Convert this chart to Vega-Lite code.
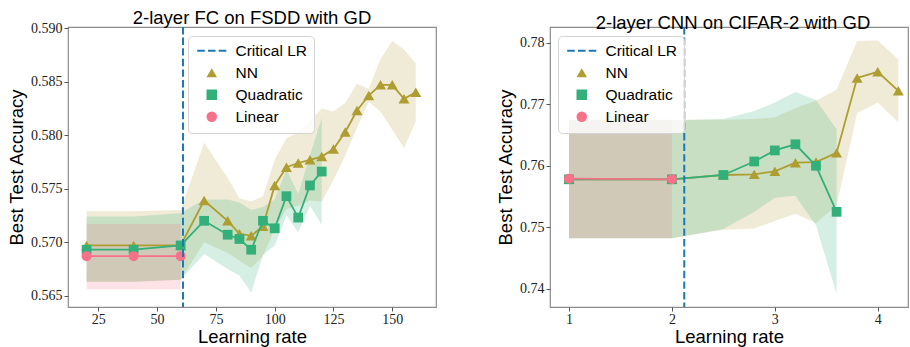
{
  "$schema": "https://vega.github.io/schema/vega-lite/v6.json",
  "background": "white",
  "padding": {"left": 6, "top": 7, "right": 0, "bottom": 0},
  "bounds": "flush",
  "spacing": 114,
  "config": {
    "view": {"stroke": "#8c8c8c", "strokeWidth": 1.2},
    "axis": {"grid": false, "domain": false, "tickColor": "#555", "tickSize": 4, "tickWidth": 1, "labelFont": "Liberation Serif", "labelFontSize": 14, "labelColor": "#222", "labelPadding": 2, "titleFont": "Liberation Sans", "titleFontSize": 18.5, "titleFontWeight": "normal", "titleColor": "#000"},
    "axisX": {"titlePadding": 1, "labelPadding": 1},
    "axisY": {"titlePadding": 4},
    "title": {"font": "Liberation Sans", "fontSize": 18.5, "fontWeight": "normal", "color": "#000", "offset": -6, "baseline": "bottom"},
    "legend": {"orient": "none", "labelFont": "Liberation Sans", "labelFontSize": 15.5, "labelColor": "#000", "symbolSize": 110, "labelOffset": 16, "symbolOffset": 9, "padding": 7, "fillColor": "rgba(255,255,255,0.8)", "strokeColor": "#d4d4d4", "cornerRadius": 4, "rowPadding": 5, "symbolStrokeWidth": 0, "symbolOpacity": 1}
  },
  "resolve": {"scale": {"color": "independent", "shape": "independent"}, "legend": {"color": "independent", "shape": "independent"}},
  "datasets": {
    "fsdd": [
      {"model": "NN", "lr": 20, "acc": 0.5697, "lo": 0.5663, "hi": 0.5729},
      {"model": "NN", "lr": 40, "acc": 0.5697, "lo": 0.5663, "hi": 0.5729},
      {"model": "NN", "lr": 60, "acc": 0.5697, "lo": 0.5665, "hi": 0.5730},
      {"model": "NN", "lr": 70, "acc": 0.5739, "lo": 0.5700, "hi": 0.5793},
      {"model": "NN", "lr": 80, "acc": 0.5720, "lo": 0.5690, "hi": 0.5760},
      {"model": "NN", "lr": 85, "acc": 0.5708, "lo": 0.5683, "hi": 0.5741},
      {"model": "NN", "lr": 90, "acc": 0.5706, "lo": 0.5676, "hi": 0.5738},
      {"model": "NN", "lr": 95, "acc": 0.5715, "lo": 0.5687, "hi": 0.5743},
      {"model": "NN", "lr": 100, "acc": 0.5753, "lo": 0.5712, "hi": 0.5777},
      {"model": "NN", "lr": 105, "acc": 0.5770, "lo": 0.5731, "hi": 0.5797},
      {"model": "NN", "lr": 110, "acc": 0.5774, "lo": 0.5734, "hi": 0.5803},
      {"model": "NN", "lr": 115, "acc": 0.5777, "lo": 0.5739, "hi": 0.5813},
      {"model": "NN", "lr": 120, "acc": 0.5780, "lo": 0.5738, "hi": 0.5825},
      {"model": "NN", "lr": 125, "acc": 0.5787, "lo": 0.5758, "hi": 0.5822},
      {"model": "NN", "lr": 130, "acc": 0.5803, "lo": 0.5781, "hi": 0.5830},
      {"model": "NN", "lr": 135, "acc": 0.5823, "lo": 0.5807, "hi": 0.5848},
      {"model": "NN", "lr": 140, "acc": 0.5837, "lo": 0.5831, "hi": 0.5843},
      {"model": "NN", "lr": 145, "acc": 0.5847, "lo": 0.5822, "hi": 0.5871},
      {"model": "NN", "lr": 150, "acc": 0.5847, "lo": 0.5805, "hi": 0.5888},
      {"model": "NN", "lr": 155, "acc": 0.5834, "lo": 0.5788, "hi": 0.5880},
      {"model": "NN", "lr": 160, "acc": 0.5840, "lo": 0.5813, "hi": 0.5867},
      {"model": "Quadratic", "lr": 20, "acc": 0.5693, "lo": 0.5663, "hi": 0.5724},
      {"model": "Quadratic", "lr": 40, "acc": 0.5693, "lo": 0.5663, "hi": 0.5724},
      {"model": "Quadratic", "lr": 60, "acc": 0.5697, "lo": 0.5665, "hi": 0.5727},
      {"model": "Quadratic", "lr": 70, "acc": 0.5720, "lo": 0.5689, "hi": 0.5740},
      {"model": "Quadratic", "lr": 80, "acc": 0.5707, "lo": 0.5675, "hi": 0.5740},
      {"model": "Quadratic", "lr": 85, "acc": 0.5703, "lo": 0.5669, "hi": 0.5737},
      {"model": "Quadratic", "lr": 90, "acc": 0.5693, "lo": 0.5653, "hi": 0.5730},
      {"model": "Quadratic", "lr": 95, "acc": 0.5720, "lo": 0.5688, "hi": 0.5733},
      {"model": "Quadratic", "lr": 100, "acc": 0.5713, "lo": 0.5697, "hi": 0.5740},
      {"model": "Quadratic", "lr": 105, "acc": 0.5743, "lo": 0.5725, "hi": 0.5768},
      {"model": "Quadratic", "lr": 110, "acc": 0.5723, "lo": 0.5709, "hi": 0.5745},
      {"model": "Quadratic", "lr": 115, "acc": 0.5753, "lo": 0.5734, "hi": 0.5781},
      {"model": "Quadratic", "lr": 120, "acc": 0.5766, "lo": 0.5716, "hi": 0.5816},
      {"model": "Linear", "lr": 20, "acc": 0.5687, "lo": 0.5656, "hi": 0.5717},
      {"model": "Linear", "lr": 40, "acc": 0.5687, "lo": 0.5656, "hi": 0.5717},
      {"model": "Linear", "lr": 60, "acc": 0.5687, "lo": 0.5656, "hi": 0.5717}
    ],
    "cifar": [
      {"model": "NN", "lr": 1, "acc": 0.7578, "lo": 0.7482, "hi": 0.7675},
      {"model": "NN", "lr": 2, "acc": 0.7578, "lo": 0.7482, "hi": 0.7675},
      {"model": "NN", "lr": 2.5, "acc": 0.7585, "lo": 0.7496, "hi": 0.7675},
      {"model": "NN", "lr": 2.8, "acc": 0.7586, "lo": 0.7498, "hi": 0.7676},
      {"model": "NN", "lr": 3.0, "acc": 0.7591, "lo": 0.7510, "hi": 0.7679},
      {"model": "NN", "lr": 3.2, "acc": 0.7605, "lo": 0.7522, "hi": 0.7694},
      {"model": "NN", "lr": 3.4, "acc": 0.7606, "lo": 0.7507, "hi": 0.7706},
      {"model": "NN", "lr": 3.6, "acc": 0.7621, "lo": 0.7535, "hi": 0.7724},
      {"model": "NN", "lr": 3.8, "acc": 0.7743, "lo": 0.7686, "hi": 0.7803},
      {"model": "NN", "lr": 4.0, "acc": 0.7753, "lo": 0.7703, "hi": 0.7804},
      {"model": "NN", "lr": 4.2, "acc": 0.7722, "lo": 0.7671, "hi": 0.7773},
      {"model": "Quadratic", "lr": 1, "acc": 0.7578, "lo": 0.7482, "hi": 0.7675},
      {"model": "Quadratic", "lr": 2, "acc": 0.7578, "lo": 0.7482, "hi": 0.7674},
      {"model": "Quadratic", "lr": 2.5, "acc": 0.7585, "lo": 0.7497, "hi": 0.7676},
      {"model": "Quadratic", "lr": 2.8, "acc": 0.7607, "lo": 0.7525, "hi": 0.7689},
      {"model": "Quadratic", "lr": 3.0, "acc": 0.7625, "lo": 0.7548, "hi": 0.7703},
      {"model": "Quadratic", "lr": 3.2, "acc": 0.7635, "lo": 0.7551, "hi": 0.7720},
      {"model": "Quadratic", "lr": 3.4, "acc": 0.7600, "lo": 0.7503, "hi": 0.7707},
      {"model": "Quadratic", "lr": 3.6, "acc": 0.7525, "lo": 0.7391, "hi": 0.7660},
      {"model": "Linear", "lr": 1, "acc": 0.7579, "lo": 0.7482, "hi": 0.7675},
      {"model": "Linear", "lr": 2, "acc": 0.7578, "lo": 0.7482, "hi": 0.7675}
    ]
  },
  "hconcat": [
    {
      "width": 368,
      "height": 280,
      "title": {"text": "2-layer FC on FSDD with GD"},
      "data": {"name": "fsdd"},
      "layer": [
        {
          "transform": [{"filter": "datum.model === 'NN'"}],
          "mark": {"type": "area", "color": "#ae9d31", "opacity": 0.2},
          "encoding": {
            "x": {"field": "lr", "type": "quantitative", "title": "Learning rate", "scale": {"domain": [12.1, 168.6], "nice": false, "zero": false}, "axis": {"values": [25, 50, 75, 100, 125, 150], "format": "d"}},
            "y": {"field": "lo", "type": "quantitative", "title": "Best Test Accuracy", "scale": {"domain": [0.56395, 0.5901], "nice": false, "zero": false}, "axis": {"values": [0.565, 0.57, 0.575, 0.58, 0.585, 0.59], "format": ".3f"}},
            "y2": {"field": "hi"}
          }
        },
        {
          "transform": [{"filter": "datum.model === 'Quadratic'"}],
          "mark": {"type": "area", "color": "#33b07a", "opacity": 0.2},
          "encoding": {
            "x": {"field": "lr", "type": "quantitative", "title": "Learning rate"},
            "y": {"field": "lo", "type": "quantitative", "title": "Best Test Accuracy"},
            "y2": {"field": "hi"}
          }
        },
        {
          "transform": [{"filter": "datum.model === 'Linear'"}],
          "mark": {"type": "area", "color": "#f77189", "opacity": 0.2},
          "encoding": {
            "x": {"field": "lr", "type": "quantitative", "title": "Learning rate"},
            "y": {"field": "lo", "type": "quantitative", "title": "Best Test Accuracy"},
            "y2": {"field": "hi"}
          }
        },
        {
          "transform": [{"filter": "datum.model === 'NN'"}],
          "mark": {"type": "line", "color": "#ae9d31", "strokeWidth": 1.8},
          "encoding": {
            "x": {"field": "lr", "type": "quantitative", "title": "Learning rate"},
            "y": {"field": "acc", "type": "quantitative", "title": "Best Test Accuracy"}
          }
        },
        {
          "transform": [{"filter": "datum.model === 'NN'"}],
          "mark": {"type": "point", "filled": true, "size": 120, "opacity": 1},
          "encoding": {
            "x": {"field": "lr", "type": "quantitative", "title": "Learning rate"},
            "y": {"field": "acc", "type": "quantitative", "title": "Best Test Accuracy"},
            "color": {"field": "model", "type": "nominal", "scale": {"domain": ["Critical LR", "NN", "Quadratic", "Linear"], "range": ["#1f77b4", "#ae9d31", "#33b07a", "#f77189"]}, "legend": {"title": null, "legendX": 120, "legendY": 9}},
            "shape": {"field": "model", "type": "nominal", "scale": {"domain": ["Critical LR", "NN", "Quadratic", "Linear"], "range": ["M-2.775,-0.19H-1.325V0.19H-2.775Z M-0.725,-0.19H0.725V0.19H-0.725Z M1.325,-0.19H2.775V0.19H1.325Z", "triangle-up", "square", "circle"]}, "legend": {"title": null, "legendX": 120, "legendY": 9}}
          }
        },
        {
          "transform": [{"filter": "datum.model === 'Quadratic'"}],
          "mark": {"type": "line", "color": "#33b07a", "strokeWidth": 1.8},
          "encoding": {
            "x": {"field": "lr", "type": "quantitative", "title": "Learning rate"},
            "y": {"field": "acc", "type": "quantitative", "title": "Best Test Accuracy"}
          }
        },
        {
          "transform": [{"filter": "datum.model === 'Quadratic'"}],
          "mark": {"type": "point", "filled": true, "size": 95, "opacity": 1},
          "encoding": {
            "x": {"field": "lr", "type": "quantitative", "title": "Learning rate"},
            "y": {"field": "acc", "type": "quantitative", "title": "Best Test Accuracy"},
            "color": {"field": "model", "type": "nominal"},
            "shape": {"field": "model", "type": "nominal"}
          }
        },
        {
          "transform": [{"filter": "datum.model === 'Linear'"}],
          "mark": {"type": "line", "color": "#f77189", "strokeWidth": 1.8},
          "encoding": {
            "x": {"field": "lr", "type": "quantitative", "title": "Learning rate"},
            "y": {"field": "acc", "type": "quantitative", "title": "Best Test Accuracy"}
          }
        },
        {
          "transform": [{"filter": "datum.model === 'Linear'"}],
          "mark": {"type": "point", "filled": true, "size": 100, "opacity": 1},
          "encoding": {
            "x": {"field": "lr", "type": "quantitative", "title": "Learning rate"},
            "y": {"field": "acc", "type": "quantitative", "title": "Best Test Accuracy"},
            "color": {"field": "model", "type": "nominal"},
            "shape": {"field": "model", "type": "nominal"}
          }
        },
        {
          "data": {"values": [{"lr": 61}]},
          "mark": {"type": "rule", "color": "#1f77b4", "strokeWidth": 2, "strokeDash": [7.4, 3.2]},
          "encoding": {
            "x": {"field": "lr", "type": "quantitative", "title": "Learning rate"}
          }
        }
      ]
    },
    {
      "width": 358,
      "height": 280,
      "title": {"text": "2-layer CNN on CIFAR-2 with GD", "dx": 4},
      "data": {"name": "cifar"},
      "layer": [
        {
          "transform": [{"filter": "datum.model === 'NN'"}],
          "mark": {"type": "area", "color": "#ae9d31", "opacity": 0.2},
          "encoding": {
            "x": {"field": "lr", "type": "quantitative", "title": "Learning rate", "scale": {"domain": [0.8155, 4.294], "nice": false, "zero": false}, "axis": {"values": [1, 2, 3, 4], "format": "d"}},
            "y": {"field": "lo", "type": "quantitative", "title": "Best Test Accuracy", "scale": {"domain": [0.737, 0.7826], "nice": false, "zero": false}, "axis": {"values": [0.74, 0.75, 0.76, 0.77, 0.78], "format": ".2f"}},
            "y2": {"field": "hi"}
          }
        },
        {
          "transform": [{"filter": "datum.model === 'Quadratic'"}],
          "mark": {"type": "area", "color": "#33b07a", "opacity": 0.2},
          "encoding": {
            "x": {"field": "lr", "type": "quantitative", "title": "Learning rate"},
            "y": {"field": "lo", "type": "quantitative", "title": "Best Test Accuracy"},
            "y2": {"field": "hi"}
          }
        },
        {
          "transform": [{"filter": "datum.model === 'Linear'"}],
          "mark": {"type": "area", "color": "#f77189", "opacity": 0.2},
          "encoding": {
            "x": {"field": "lr", "type": "quantitative", "title": "Learning rate"},
            "y": {"field": "lo", "type": "quantitative", "title": "Best Test Accuracy"},
            "y2": {"field": "hi"}
          }
        },
        {
          "transform": [{"filter": "datum.model === 'NN'"}],
          "mark": {"type": "line", "color": "#ae9d31", "strokeWidth": 1.8},
          "encoding": {
            "x": {"field": "lr", "type": "quantitative", "title": "Learning rate"},
            "y": {"field": "acc", "type": "quantitative", "title": "Best Test Accuracy"}
          }
        },
        {
          "transform": [{"filter": "datum.model === 'NN'"}],
          "mark": {"type": "point", "filled": true, "size": 120, "opacity": 1},
          "encoding": {
            "x": {"field": "lr", "type": "quantitative", "title": "Learning rate"},
            "y": {"field": "acc", "type": "quantitative", "title": "Best Test Accuracy"},
            "color": {"field": "model", "type": "nominal", "scale": {"domain": ["Critical LR", "NN", "Quadratic", "Linear"], "range": ["#1f77b4", "#ae9d31", "#33b07a", "#f77189"]}, "legend": {"title": null, "legendX": 8, "legendY": 9}},
            "shape": {"field": "model", "type": "nominal", "scale": {"domain": ["Critical LR", "NN", "Quadratic", "Linear"], "range": ["M-2.775,-0.19H-1.325V0.19H-2.775Z M-0.725,-0.19H0.725V0.19H-0.725Z M1.325,-0.19H2.775V0.19H1.325Z", "triangle-up", "square", "circle"]}, "legend": {"title": null, "legendX": 8, "legendY": 9}}
          }
        },
        {
          "transform": [{"filter": "datum.model === 'Quadratic'"}],
          "mark": {"type": "line", "color": "#33b07a", "strokeWidth": 1.8},
          "encoding": {
            "x": {"field": "lr", "type": "quantitative", "title": "Learning rate"},
            "y": {"field": "acc", "type": "quantitative", "title": "Best Test Accuracy"}
          }
        },
        {
          "transform": [{"filter": "datum.model === 'Quadratic'"}],
          "mark": {"type": "point", "filled": true, "size": 95, "opacity": 1},
          "encoding": {
            "x": {"field": "lr", "type": "quantitative", "title": "Learning rate"},
            "y": {"field": "acc", "type": "quantitative", "title": "Best Test Accuracy"},
            "color": {"field": "model", "type": "nominal"},
            "shape": {"field": "model", "type": "nominal"}
          }
        },
        {
          "transform": [{"filter": "datum.model === 'Linear'"}],
          "mark": {"type": "line", "color": "#f77189", "strokeWidth": 1.8},
          "encoding": {
            "x": {"field": "lr", "type": "quantitative", "title": "Learning rate"},
            "y": {"field": "acc", "type": "quantitative", "title": "Best Test Accuracy"}
          }
        },
        {
          "transform": [{"filter": "datum.model === 'Linear'"}],
          "mark": {"type": "point", "filled": true, "size": 100, "opacity": 1},
          "encoding": {
            "x": {"field": "lr", "type": "quantitative", "title": "Learning rate"},
            "y": {"field": "acc", "type": "quantitative", "title": "Best Test Accuracy"},
            "color": {"field": "model", "type": "nominal"},
            "shape": {"field": "model", "type": "nominal"}
          }
        },
        {
          "data": {"values": [{"lr": 2.12}]},
          "mark": {"type": "rule", "color": "#1f77b4", "strokeWidth": 2, "strokeDash": [7.4, 3.2]},
          "encoding": {
            "x": {"field": "lr", "type": "quantitative", "title": "Learning rate"}
          }
        }
      ]
    }
  ]
}
